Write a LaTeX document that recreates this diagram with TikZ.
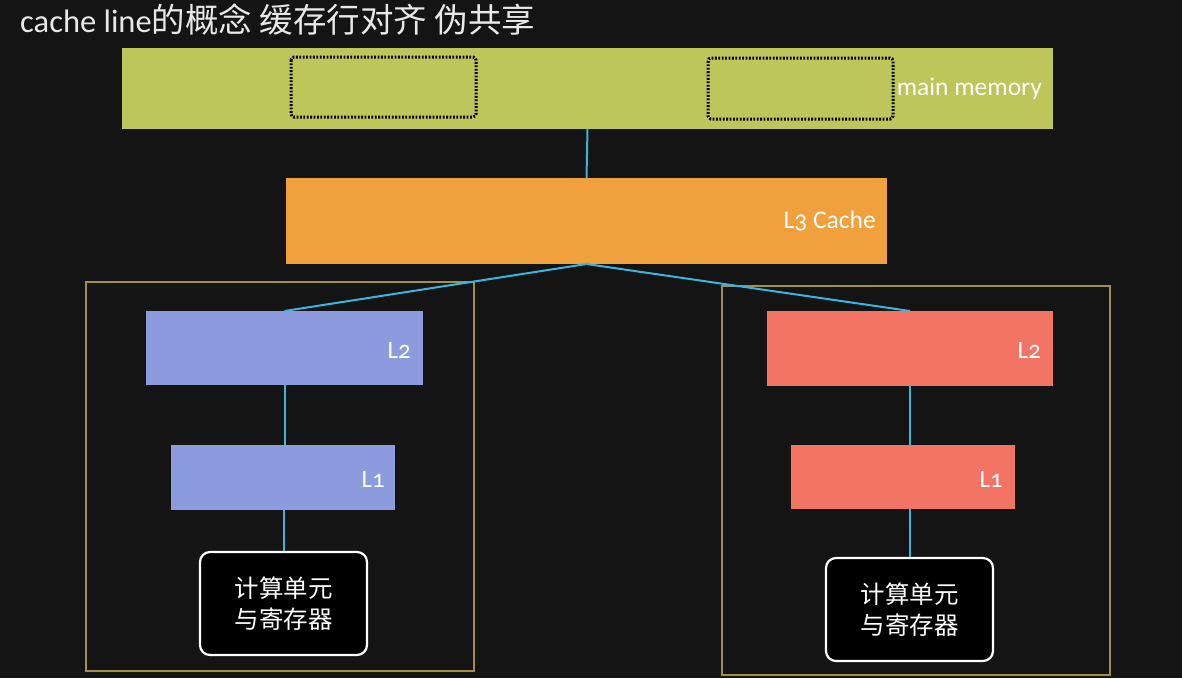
\documentclass[tikz,border=0pt]{standalone}
\usepackage{fontspec}
\setmainfont{Carlito}
\newfontfamily\cjk{Noto Sans CJK SC}
\newfontfamily\osf[Numbers=OldStyle]{Carlito}
\definecolor{bg}{HTML}{141414}
\definecolor{mmgreen}{HTML}{BDC65A}
\definecolor{cacheorange}{HTML}{F0A03D}
\definecolor{coreblue}{HTML}{8C9BDD}
\definecolor{coresalmon}{HTML}{F27464}
\definecolor{wire}{HTML}{3BB4E0}
\definecolor{framegold}{HTML}{A0904A}
\definecolor{titlegray}{HTML}{E8E8E8}
\begin{document}
\begin{tikzpicture}[x=1pt,y=-1pt,
  block/.style={draw=none,inner sep=0pt,outer sep=0pt},
  conn/.style={draw=wire,line width=2pt},
  dotbox/.style={draw=black,line width=3pt,dash pattern=on 1.8pt off 1.6pt,rounded corners=3pt},
  corebox/.style={draw=framegold,line width=1.2pt},
  lab/.style={text=white,font=\osf\fontsize{25}{28}\selectfont,anchor=east,inner sep=0pt},
  unit/.style={draw=white,line width=2.2pt,fill=black,rounded corners=10pt,text=white,
    align=center,font=\cjk\fontsize{24.5}{31}\selectfont,inner sep=0pt,
    minimum width=167pt,minimum height=103pt}]
\useasboundingbox (0,0) rectangle (1182,678);
\fill[bg] (0,0) rectangle (1182,678);
% title
\node[anchor=base west,inner sep=0pt,text=titlegray] (title) at (20,32)
  {{\fontsize{32.5}{36}\selectfont cache line}{\cjk\fontsize{33.5}{38}\selectfont 的概念 缓存行对齐 伪共享}};
% main memory
\node[block,fill=mmgreen,minimum width=931pt,minimum height=81pt] (mm) at (587.5,88.5) {};
\draw[dotbox] (291,57) rectangle (476,117);
\draw[dotbox] (708,58) rectangle (893,119);
\node[lab,font=\fontsize{25.5}{28}\selectfont] (mmlab) at (1042,89) {main memory};
% L3
\node[block,fill=cacheorange,minimum width=601pt,minimum height=86pt] (l3) at (586.5,221) {};
\node[lab,font=\osf\fontsize{25.5}{28}\selectfont] (l3lab) at (876,221) {L3 Cache};
% frames
\draw[corebox] (86,282) rectangle (474,671);
\draw[corebox] (722,286) rectangle (1110,675);
% left core
\node[block,fill=coreblue,minimum width=277pt,minimum height=74pt] (l2a) at (284.5,348) {};
\node[lab] (l2alab) at (411,350) {L2};
\node[block,fill=coreblue,minimum width=224pt,minimum height=65pt] (l1a) at (283,477.5) {};
\node[lab] (l1alab) at (385,479) {L1};
\node[unit] (ua) at (283.5,603.5) {计算单元\\与寄存器};
% right core
\node[block,fill=coresalmon,minimum width=286pt,minimum height=75pt] (l2b) at (910,348.5) {};
\node[lab] (l2blab) at (1041,350) {L2};
\node[block,fill=coresalmon,minimum width=224pt,minimum height=64pt] (l1b) at (903,477) {};
\node[lab] (l1blab) at (1003,479) {L1};
\node[unit] (ub) at (909.5,609.5) {计算单元\\与寄存器};
% connectors
\draw[conn] (mm.south) -- (l3.north);
\draw[conn] (l3.south) -- (l2a.north);
\draw[conn] (l3.south) -- (l2b.north);
\draw[conn] (l2a.south) -- (l2a.south |- l1a.north);
\draw[conn] (l1a.south -| ua.north) -- (ua.north);
\draw[conn] (l2b.south) -- (l2b.south |- l1b.north);
\draw[conn] (l1b.south -| ub.north) -- (ub.north);
\end{tikzpicture}
\end{document}
